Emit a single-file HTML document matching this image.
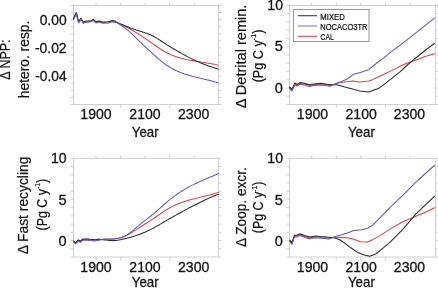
<!DOCTYPE html>
<html><head><meta charset="utf-8"><style>
html,body{margin:0;padding:0;background:#fff;overflow:hidden;}
svg{display:block;will-change:transform;}
text{font-family:"Liberation Sans", sans-serif;fill:#111;stroke:#111;stroke-width:0.28px;}
</style></head><body>
<svg width="438" height="288" viewBox="0 0 438 288">
<rect x="73.5" y="5.5" width="145.0" height="99.0" fill="none" stroke="#d0d0d0" stroke-width="1"/>
<line x1="70.5" y1="5.50" x2="73.5" y2="5.50" stroke="#d0d0d0" stroke-width="1"/>
<line x1="218.5" y1="5.50" x2="221.5" y2="5.50" stroke="#d0d0d0" stroke-width="1"/>
<line x1="70.5" y1="12.57" x2="73.5" y2="12.57" stroke="#d0d0d0" stroke-width="1"/>
<line x1="218.5" y1="12.57" x2="221.5" y2="12.57" stroke="#d0d0d0" stroke-width="1"/>
<line x1="70.5" y1="19.64" x2="73.5" y2="19.64" stroke="#d0d0d0" stroke-width="1"/>
<line x1="218.5" y1="19.64" x2="221.5" y2="19.64" stroke="#d0d0d0" stroke-width="1"/>
<line x1="70.5" y1="26.71" x2="73.5" y2="26.71" stroke="#d0d0d0" stroke-width="1"/>
<line x1="218.5" y1="26.71" x2="221.5" y2="26.71" stroke="#d0d0d0" stroke-width="1"/>
<line x1="70.5" y1="33.79" x2="73.5" y2="33.79" stroke="#d0d0d0" stroke-width="1"/>
<line x1="218.5" y1="33.79" x2="221.5" y2="33.79" stroke="#d0d0d0" stroke-width="1"/>
<line x1="70.5" y1="40.86" x2="73.5" y2="40.86" stroke="#d0d0d0" stroke-width="1"/>
<line x1="218.5" y1="40.86" x2="221.5" y2="40.86" stroke="#d0d0d0" stroke-width="1"/>
<line x1="70.5" y1="47.93" x2="73.5" y2="47.93" stroke="#d0d0d0" stroke-width="1"/>
<line x1="218.5" y1="47.93" x2="221.5" y2="47.93" stroke="#d0d0d0" stroke-width="1"/>
<line x1="70.5" y1="55.00" x2="73.5" y2="55.00" stroke="#d0d0d0" stroke-width="1"/>
<line x1="218.5" y1="55.00" x2="221.5" y2="55.00" stroke="#d0d0d0" stroke-width="1"/>
<line x1="70.5" y1="62.07" x2="73.5" y2="62.07" stroke="#d0d0d0" stroke-width="1"/>
<line x1="218.5" y1="62.07" x2="221.5" y2="62.07" stroke="#d0d0d0" stroke-width="1"/>
<line x1="70.5" y1="69.14" x2="73.5" y2="69.14" stroke="#d0d0d0" stroke-width="1"/>
<line x1="218.5" y1="69.14" x2="221.5" y2="69.14" stroke="#d0d0d0" stroke-width="1"/>
<line x1="70.5" y1="76.21" x2="73.5" y2="76.21" stroke="#d0d0d0" stroke-width="1"/>
<line x1="218.5" y1="76.21" x2="221.5" y2="76.21" stroke="#d0d0d0" stroke-width="1"/>
<line x1="70.5" y1="83.29" x2="73.5" y2="83.29" stroke="#d0d0d0" stroke-width="1"/>
<line x1="218.5" y1="83.29" x2="221.5" y2="83.29" stroke="#d0d0d0" stroke-width="1"/>
<line x1="70.5" y1="90.36" x2="73.5" y2="90.36" stroke="#d0d0d0" stroke-width="1"/>
<line x1="218.5" y1="90.36" x2="221.5" y2="90.36" stroke="#d0d0d0" stroke-width="1"/>
<line x1="70.5" y1="97.43" x2="73.5" y2="97.43" stroke="#d0d0d0" stroke-width="1"/>
<line x1="218.5" y1="97.43" x2="221.5" y2="97.43" stroke="#d0d0d0" stroke-width="1"/>
<line x1="70.5" y1="104.50" x2="73.5" y2="104.50" stroke="#d0d0d0" stroke-width="1"/>
<line x1="218.5" y1="104.50" x2="221.5" y2="104.50" stroke="#d0d0d0" stroke-width="1"/>
<line x1="96.00" y1="104.5" x2="96.00" y2="107.5" stroke="#d0d0d0" stroke-width="1"/>
<line x1="96.00" y1="2.5" x2="96.00" y2="5.5" stroke="#d0d0d0" stroke-width="1"/>
<line x1="120.55" y1="104.5" x2="120.55" y2="107.5" stroke="#d0d0d0" stroke-width="1"/>
<line x1="120.55" y1="2.5" x2="120.55" y2="5.5" stroke="#d0d0d0" stroke-width="1"/>
<line x1="145.10" y1="104.5" x2="145.10" y2="107.5" stroke="#d0d0d0" stroke-width="1"/>
<line x1="145.10" y1="2.5" x2="145.10" y2="5.5" stroke="#d0d0d0" stroke-width="1"/>
<line x1="169.65" y1="104.5" x2="169.65" y2="107.5" stroke="#d0d0d0" stroke-width="1"/>
<line x1="169.65" y1="2.5" x2="169.65" y2="5.5" stroke="#d0d0d0" stroke-width="1"/>
<line x1="194.20" y1="104.5" x2="194.20" y2="107.5" stroke="#d0d0d0" stroke-width="1"/>
<line x1="194.20" y1="2.5" x2="194.20" y2="5.5" stroke="#d0d0d0" stroke-width="1"/>
<rect x="289.5" y="5.5" width="146.0" height="99.0" fill="none" stroke="#d0d0d0" stroke-width="1"/>
<line x1="286.5" y1="5.50" x2="289.5" y2="5.50" stroke="#d0d0d0" stroke-width="1"/>
<line x1="435.5" y1="5.50" x2="438.5" y2="5.50" stroke="#d0d0d0" stroke-width="1"/>
<line x1="286.5" y1="13.75" x2="289.5" y2="13.75" stroke="#d0d0d0" stroke-width="1"/>
<line x1="435.5" y1="13.75" x2="438.5" y2="13.75" stroke="#d0d0d0" stroke-width="1"/>
<line x1="286.5" y1="22.00" x2="289.5" y2="22.00" stroke="#d0d0d0" stroke-width="1"/>
<line x1="435.5" y1="22.00" x2="438.5" y2="22.00" stroke="#d0d0d0" stroke-width="1"/>
<line x1="286.5" y1="30.25" x2="289.5" y2="30.25" stroke="#d0d0d0" stroke-width="1"/>
<line x1="435.5" y1="30.25" x2="438.5" y2="30.25" stroke="#d0d0d0" stroke-width="1"/>
<line x1="286.5" y1="38.50" x2="289.5" y2="38.50" stroke="#d0d0d0" stroke-width="1"/>
<line x1="435.5" y1="38.50" x2="438.5" y2="38.50" stroke="#d0d0d0" stroke-width="1"/>
<line x1="286.5" y1="46.75" x2="289.5" y2="46.75" stroke="#d0d0d0" stroke-width="1"/>
<line x1="435.5" y1="46.75" x2="438.5" y2="46.75" stroke="#d0d0d0" stroke-width="1"/>
<line x1="286.5" y1="55.00" x2="289.5" y2="55.00" stroke="#d0d0d0" stroke-width="1"/>
<line x1="435.5" y1="55.00" x2="438.5" y2="55.00" stroke="#d0d0d0" stroke-width="1"/>
<line x1="286.5" y1="63.25" x2="289.5" y2="63.25" stroke="#d0d0d0" stroke-width="1"/>
<line x1="435.5" y1="63.25" x2="438.5" y2="63.25" stroke="#d0d0d0" stroke-width="1"/>
<line x1="286.5" y1="71.50" x2="289.5" y2="71.50" stroke="#d0d0d0" stroke-width="1"/>
<line x1="435.5" y1="71.50" x2="438.5" y2="71.50" stroke="#d0d0d0" stroke-width="1"/>
<line x1="286.5" y1="79.75" x2="289.5" y2="79.75" stroke="#d0d0d0" stroke-width="1"/>
<line x1="435.5" y1="79.75" x2="438.5" y2="79.75" stroke="#d0d0d0" stroke-width="1"/>
<line x1="286.5" y1="88.00" x2="289.5" y2="88.00" stroke="#d0d0d0" stroke-width="1"/>
<line x1="435.5" y1="88.00" x2="438.5" y2="88.00" stroke="#d0d0d0" stroke-width="1"/>
<line x1="286.5" y1="96.25" x2="289.5" y2="96.25" stroke="#d0d0d0" stroke-width="1"/>
<line x1="435.5" y1="96.25" x2="438.5" y2="96.25" stroke="#d0d0d0" stroke-width="1"/>
<line x1="286.5" y1="104.50" x2="289.5" y2="104.50" stroke="#d0d0d0" stroke-width="1"/>
<line x1="435.5" y1="104.50" x2="438.5" y2="104.50" stroke="#d0d0d0" stroke-width="1"/>
<line x1="311.70" y1="104.5" x2="311.70" y2="107.5" stroke="#d0d0d0" stroke-width="1"/>
<line x1="311.70" y1="2.5" x2="311.70" y2="5.5" stroke="#d0d0d0" stroke-width="1"/>
<line x1="336.25" y1="104.5" x2="336.25" y2="107.5" stroke="#d0d0d0" stroke-width="1"/>
<line x1="336.25" y1="2.5" x2="336.25" y2="5.5" stroke="#d0d0d0" stroke-width="1"/>
<line x1="360.80" y1="104.5" x2="360.80" y2="107.5" stroke="#d0d0d0" stroke-width="1"/>
<line x1="360.80" y1="2.5" x2="360.80" y2="5.5" stroke="#d0d0d0" stroke-width="1"/>
<line x1="385.35" y1="104.5" x2="385.35" y2="107.5" stroke="#d0d0d0" stroke-width="1"/>
<line x1="385.35" y1="2.5" x2="385.35" y2="5.5" stroke="#d0d0d0" stroke-width="1"/>
<line x1="409.90" y1="104.5" x2="409.90" y2="107.5" stroke="#d0d0d0" stroke-width="1"/>
<line x1="409.90" y1="2.5" x2="409.90" y2="5.5" stroke="#d0d0d0" stroke-width="1"/>
<rect x="73.5" y="158.3" width="145.0" height="98.69999999999999" fill="none" stroke="#d0d0d0" stroke-width="1"/>
<line x1="70.5" y1="158.30" x2="73.5" y2="158.30" stroke="#d0d0d0" stroke-width="1"/>
<line x1="218.5" y1="158.30" x2="221.5" y2="158.30" stroke="#d0d0d0" stroke-width="1"/>
<line x1="70.5" y1="166.53" x2="73.5" y2="166.53" stroke="#d0d0d0" stroke-width="1"/>
<line x1="218.5" y1="166.53" x2="221.5" y2="166.53" stroke="#d0d0d0" stroke-width="1"/>
<line x1="70.5" y1="174.75" x2="73.5" y2="174.75" stroke="#d0d0d0" stroke-width="1"/>
<line x1="218.5" y1="174.75" x2="221.5" y2="174.75" stroke="#d0d0d0" stroke-width="1"/>
<line x1="70.5" y1="182.98" x2="73.5" y2="182.98" stroke="#d0d0d0" stroke-width="1"/>
<line x1="218.5" y1="182.98" x2="221.5" y2="182.98" stroke="#d0d0d0" stroke-width="1"/>
<line x1="70.5" y1="191.20" x2="73.5" y2="191.20" stroke="#d0d0d0" stroke-width="1"/>
<line x1="218.5" y1="191.20" x2="221.5" y2="191.20" stroke="#d0d0d0" stroke-width="1"/>
<line x1="70.5" y1="199.43" x2="73.5" y2="199.43" stroke="#d0d0d0" stroke-width="1"/>
<line x1="218.5" y1="199.43" x2="221.5" y2="199.43" stroke="#d0d0d0" stroke-width="1"/>
<line x1="70.5" y1="207.65" x2="73.5" y2="207.65" stroke="#d0d0d0" stroke-width="1"/>
<line x1="218.5" y1="207.65" x2="221.5" y2="207.65" stroke="#d0d0d0" stroke-width="1"/>
<line x1="70.5" y1="215.88" x2="73.5" y2="215.88" stroke="#d0d0d0" stroke-width="1"/>
<line x1="218.5" y1="215.88" x2="221.5" y2="215.88" stroke="#d0d0d0" stroke-width="1"/>
<line x1="70.5" y1="224.10" x2="73.5" y2="224.10" stroke="#d0d0d0" stroke-width="1"/>
<line x1="218.5" y1="224.10" x2="221.5" y2="224.10" stroke="#d0d0d0" stroke-width="1"/>
<line x1="70.5" y1="232.32" x2="73.5" y2="232.32" stroke="#d0d0d0" stroke-width="1"/>
<line x1="218.5" y1="232.32" x2="221.5" y2="232.32" stroke="#d0d0d0" stroke-width="1"/>
<line x1="70.5" y1="240.55" x2="73.5" y2="240.55" stroke="#d0d0d0" stroke-width="1"/>
<line x1="218.5" y1="240.55" x2="221.5" y2="240.55" stroke="#d0d0d0" stroke-width="1"/>
<line x1="70.5" y1="248.78" x2="73.5" y2="248.78" stroke="#d0d0d0" stroke-width="1"/>
<line x1="218.5" y1="248.78" x2="221.5" y2="248.78" stroke="#d0d0d0" stroke-width="1"/>
<line x1="70.5" y1="257.00" x2="73.5" y2="257.00" stroke="#d0d0d0" stroke-width="1"/>
<line x1="218.5" y1="257.00" x2="221.5" y2="257.00" stroke="#d0d0d0" stroke-width="1"/>
<line x1="96.00" y1="257.0" x2="96.00" y2="260.0" stroke="#d0d0d0" stroke-width="1"/>
<line x1="96.00" y1="155.3" x2="96.00" y2="158.3" stroke="#d0d0d0" stroke-width="1"/>
<line x1="120.55" y1="257.0" x2="120.55" y2="260.0" stroke="#d0d0d0" stroke-width="1"/>
<line x1="120.55" y1="155.3" x2="120.55" y2="158.3" stroke="#d0d0d0" stroke-width="1"/>
<line x1="145.10" y1="257.0" x2="145.10" y2="260.0" stroke="#d0d0d0" stroke-width="1"/>
<line x1="145.10" y1="155.3" x2="145.10" y2="158.3" stroke="#d0d0d0" stroke-width="1"/>
<line x1="169.65" y1="257.0" x2="169.65" y2="260.0" stroke="#d0d0d0" stroke-width="1"/>
<line x1="169.65" y1="155.3" x2="169.65" y2="158.3" stroke="#d0d0d0" stroke-width="1"/>
<line x1="194.20" y1="257.0" x2="194.20" y2="260.0" stroke="#d0d0d0" stroke-width="1"/>
<line x1="194.20" y1="155.3" x2="194.20" y2="158.3" stroke="#d0d0d0" stroke-width="1"/>
<rect x="289.5" y="158.3" width="146.0" height="98.69999999999999" fill="none" stroke="#d0d0d0" stroke-width="1"/>
<line x1="286.5" y1="158.30" x2="289.5" y2="158.30" stroke="#d0d0d0" stroke-width="1"/>
<line x1="435.5" y1="158.30" x2="438.5" y2="158.30" stroke="#d0d0d0" stroke-width="1"/>
<line x1="286.5" y1="166.53" x2="289.5" y2="166.53" stroke="#d0d0d0" stroke-width="1"/>
<line x1="435.5" y1="166.53" x2="438.5" y2="166.53" stroke="#d0d0d0" stroke-width="1"/>
<line x1="286.5" y1="174.75" x2="289.5" y2="174.75" stroke="#d0d0d0" stroke-width="1"/>
<line x1="435.5" y1="174.75" x2="438.5" y2="174.75" stroke="#d0d0d0" stroke-width="1"/>
<line x1="286.5" y1="182.98" x2="289.5" y2="182.98" stroke="#d0d0d0" stroke-width="1"/>
<line x1="435.5" y1="182.98" x2="438.5" y2="182.98" stroke="#d0d0d0" stroke-width="1"/>
<line x1="286.5" y1="191.20" x2="289.5" y2="191.20" stroke="#d0d0d0" stroke-width="1"/>
<line x1="435.5" y1="191.20" x2="438.5" y2="191.20" stroke="#d0d0d0" stroke-width="1"/>
<line x1="286.5" y1="199.43" x2="289.5" y2="199.43" stroke="#d0d0d0" stroke-width="1"/>
<line x1="435.5" y1="199.43" x2="438.5" y2="199.43" stroke="#d0d0d0" stroke-width="1"/>
<line x1="286.5" y1="207.65" x2="289.5" y2="207.65" stroke="#d0d0d0" stroke-width="1"/>
<line x1="435.5" y1="207.65" x2="438.5" y2="207.65" stroke="#d0d0d0" stroke-width="1"/>
<line x1="286.5" y1="215.88" x2="289.5" y2="215.88" stroke="#d0d0d0" stroke-width="1"/>
<line x1="435.5" y1="215.88" x2="438.5" y2="215.88" stroke="#d0d0d0" stroke-width="1"/>
<line x1="286.5" y1="224.10" x2="289.5" y2="224.10" stroke="#d0d0d0" stroke-width="1"/>
<line x1="435.5" y1="224.10" x2="438.5" y2="224.10" stroke="#d0d0d0" stroke-width="1"/>
<line x1="286.5" y1="232.32" x2="289.5" y2="232.32" stroke="#d0d0d0" stroke-width="1"/>
<line x1="435.5" y1="232.32" x2="438.5" y2="232.32" stroke="#d0d0d0" stroke-width="1"/>
<line x1="286.5" y1="240.55" x2="289.5" y2="240.55" stroke="#d0d0d0" stroke-width="1"/>
<line x1="435.5" y1="240.55" x2="438.5" y2="240.55" stroke="#d0d0d0" stroke-width="1"/>
<line x1="286.5" y1="248.78" x2="289.5" y2="248.78" stroke="#d0d0d0" stroke-width="1"/>
<line x1="435.5" y1="248.78" x2="438.5" y2="248.78" stroke="#d0d0d0" stroke-width="1"/>
<line x1="286.5" y1="257.00" x2="289.5" y2="257.00" stroke="#d0d0d0" stroke-width="1"/>
<line x1="435.5" y1="257.00" x2="438.5" y2="257.00" stroke="#d0d0d0" stroke-width="1"/>
<line x1="311.70" y1="257.0" x2="311.70" y2="260.0" stroke="#d0d0d0" stroke-width="1"/>
<line x1="311.70" y1="155.3" x2="311.70" y2="158.3" stroke="#d0d0d0" stroke-width="1"/>
<line x1="336.25" y1="257.0" x2="336.25" y2="260.0" stroke="#d0d0d0" stroke-width="1"/>
<line x1="336.25" y1="155.3" x2="336.25" y2="158.3" stroke="#d0d0d0" stroke-width="1"/>
<line x1="360.80" y1="257.0" x2="360.80" y2="260.0" stroke="#d0d0d0" stroke-width="1"/>
<line x1="360.80" y1="155.3" x2="360.80" y2="158.3" stroke="#d0d0d0" stroke-width="1"/>
<line x1="385.35" y1="257.0" x2="385.35" y2="260.0" stroke="#d0d0d0" stroke-width="1"/>
<line x1="385.35" y1="155.3" x2="385.35" y2="158.3" stroke="#d0d0d0" stroke-width="1"/>
<line x1="409.90" y1="257.0" x2="409.90" y2="260.0" stroke="#d0d0d0" stroke-width="1"/>
<line x1="409.90" y1="155.3" x2="409.90" y2="158.3" stroke="#d0d0d0" stroke-width="1"/>
<polyline points="73.4,19.2 76.3,13.1 78.6,22.3 80.9,18.8 83.4,22.8 85.7,21.7 90.3,21.5 93.1,20.0 96.0,22.3 98.8,21.5 102.8,22.6 108.5,22.3 112.5,21.1 115.4,21.9 116.4,22.3 117.4,22.7 118.4,23.2 119.4,23.6 120.4,24.1 121.4,24.6 122.4,25.0 123.4,25.5 124.4,26.0 125.4,26.5 126.4,27.0 127.4,27.5 128.4,28.0 129.4,28.5 130.4,29.1 131.4,29.7 132.4,30.3 133.4,30.9 134.4,31.5 135.4,32.1 136.4,32.8 137.4,33.4 138.4,34.0 139.4,34.7 140.4,35.3 141.4,36.0 142.4,36.6 143.4,37.3 144.4,37.9 145.4,38.6 146.4,39.3 147.4,39.9 148.4,40.6 149.4,41.3 150.4,42.0 151.4,42.7 152.4,43.3 153.4,44.1 154.4,44.8 155.4,45.5 156.4,46.2 157.4,46.9 158.4,47.6 159.4,48.3 160.4,49.0 161.4,49.6 162.4,50.2 163.4,50.8 164.4,51.4 165.4,52.0 166.4,52.5 167.4,53.0 168.4,53.5 169.4,54.0 170.4,54.4 171.4,54.9 172.4,55.3 173.4,55.7 174.4,56.0 175.4,56.4 176.4,56.7 177.4,57.1 178.4,57.4 179.4,57.7 180.4,58.0 181.4,58.3 182.4,58.5 183.4,58.8 184.4,59.0 185.4,59.2 186.4,59.5 187.4,59.7 188.4,59.9 189.4,60.1 190.4,60.3 191.4,60.5 192.4,60.6 193.4,60.8 194.4,61.0 195.4,61.1 196.4,61.3 197.4,61.5 198.4,61.6 199.4,61.8 200.4,61.9 201.4,62.1 202.4,62.2 203.4,62.4 204.4,62.5 205.4,62.7 206.4,62.9 207.4,63.0 208.4,63.2 209.4,63.4 210.4,63.6 211.4,63.7 212.4,63.9 213.4,64.1 214.4,64.3 215.4,64.6 216.4,64.8 217.4,65.0 218.0,65.2" fill="none" stroke="#cc4450" stroke-width="1.05" stroke-linejoin="round" stroke-linecap="round"/>
<polyline points="73.4,18.6 76.3,12.5 78.6,21.7 80.9,18.2 83.4,22.2 85.7,21.1 90.3,20.9 93.1,19.4 96.0,21.7 98.8,20.9 102.8,22.0 108.5,21.7 112.5,20.5 115.4,21.3 116.4,22.3 117.4,22.7 118.4,23.1 119.4,23.5 120.4,23.9 121.4,24.3 122.4,24.7 123.4,25.1 124.4,25.5 125.4,25.9 126.4,26.3 127.4,26.7 128.4,27.1 129.4,27.5 130.4,27.9 131.4,28.2 132.4,28.6 133.4,28.9 134.4,29.3 135.4,29.6 136.4,30.0 137.4,30.3 138.4,30.6 139.4,31.0 140.4,31.3 141.4,31.6 142.4,31.9 143.4,32.2 144.4,32.5 145.4,32.9 146.4,33.2 147.4,33.6 148.4,34.0 149.4,34.4 150.4,34.8 151.4,35.2 152.4,35.7 153.4,36.2 154.4,36.8 155.4,37.3 156.4,37.9 157.4,38.6 158.4,39.2 159.4,39.9 160.4,40.5 161.4,41.2 162.4,41.9 163.4,42.5 164.4,43.1 165.4,43.8 166.4,44.4 167.4,45.1 168.4,45.7 169.4,46.3 170.4,46.9 171.4,47.5 172.4,48.1 173.4,48.7 174.4,49.3 175.4,49.9 176.4,50.5 177.4,51.1 178.4,51.7 179.4,52.2 180.4,52.8 181.4,53.4 182.4,53.9 183.4,54.5 184.4,55.0 185.4,55.5 186.4,56.1 187.4,56.6 188.4,57.1 189.4,57.6 190.4,58.1 191.4,58.6 192.4,59.1 193.4,59.6 194.4,60.0 195.4,60.5 196.4,61.0 197.4,61.4 198.4,61.9 199.4,62.3 200.4,62.7 201.4,63.2 202.4,63.6 203.4,64.0 204.4,64.4 205.4,64.8 206.4,65.2 207.4,65.5 208.4,65.9 209.4,66.3 210.4,66.6 211.4,66.9 212.4,67.3 213.4,67.6 214.4,67.9 215.4,68.2 216.4,68.5 217.4,68.8 218.0,69.0" fill="none" stroke="#2a2a2a" stroke-width="1.05" stroke-linejoin="round" stroke-linecap="round"/>
<polyline points="73.4,19.8 76.3,13.7 78.6,22.9 80.9,19.4 83.4,23.4 85.7,22.3 90.3,22.1 93.1,20.6 96.0,22.9 98.8,22.1 102.8,23.2 108.5,22.9 112.5,21.7 115.4,22.5 116.4,22.4 117.4,22.9 118.4,23.5 119.4,24.2 120.4,24.8 121.4,25.5 122.4,26.2 123.4,26.9 124.4,27.6 125.4,28.3 126.4,29.1 127.4,29.9 128.4,30.7 129.4,31.6 130.4,32.4 131.4,33.4 132.4,34.3 133.4,35.3 134.4,36.3 135.4,37.3 136.4,38.3 137.4,39.3 138.4,40.3 139.4,41.3 140.4,42.3 141.4,43.2 142.4,44.2 143.4,45.2 144.4,46.1 145.4,47.0 146.4,47.9 147.4,48.9 148.4,49.8 149.4,50.7 150.4,51.6 151.4,52.5 152.4,53.4 153.4,54.3 154.4,55.2 155.4,56.1 156.4,57.0 157.4,57.9 158.4,58.8 159.4,59.7 160.4,60.5 161.4,61.3 162.4,62.1 163.4,62.9 164.4,63.6 165.4,64.4 166.4,65.0 167.4,65.7 168.4,66.3 169.4,67.0 170.4,67.6 171.4,68.1 172.4,68.7 173.4,69.2 174.4,69.7 175.4,70.2 176.4,70.7 177.4,71.1 178.4,71.6 179.4,72.0 180.4,72.4 181.4,72.8 182.4,73.2 183.4,73.5 184.4,73.9 185.4,74.2 186.4,74.5 187.4,74.8 188.4,75.1 189.4,75.4 190.4,75.7 191.4,76.0 192.4,76.3 193.4,76.5 194.4,76.8 195.4,77.0 196.4,77.3 197.4,77.5 198.4,77.8 199.4,78.0 200.4,78.2 201.4,78.5 202.4,78.7 203.4,78.9 204.4,79.2 205.4,79.4 206.4,79.6 207.4,79.9 208.4,80.1 209.4,80.4 210.4,80.6 211.4,80.9 212.4,81.1 213.4,81.4 214.4,81.7 215.4,82.0 216.4,82.3 217.4,82.6 218.0,82.8" fill="none" stroke="#5c5cb2" stroke-width="1.05" stroke-linejoin="round" stroke-linecap="round"/>
<polyline points="289.5,87.8 292.0,90.1 294.9,83.7 297.1,85.2 299.9,83.4 304.4,84.1 309.9,85.6 313.6,84.7 320.9,84.1 325.4,84.7 330.0,85.5 336.9,83.3 343.9,82.1 352.5,80.9 359.5,82.1 369.0,80.9 373.0,79.4 378.0,77.0 384.2,74.2 390.5,71.1 396.8,68.1 400.0,66.3 406.2,63.6 412.5,61.3 418.8,58.9 425.0,56.4 431.2,54.7 434.5,53.8" fill="none" stroke="#cc4450" stroke-width="1.05" stroke-linejoin="round" stroke-linecap="round"/>
<polyline points="289.5,87.0 292.0,89.2 294.9,82.9 297.1,84.4 299.9,82.6 304.4,83.2 309.9,84.8 313.6,83.9 320.9,83.2 325.4,83.9 330.0,84.7 336.9,84.7 343.9,86.8 352.5,89.0 359.5,91.1 369.0,92.0 375.1,89.5 378.0,88.8 384.2,84.3 390.5,79.4 396.8,74.4 400.0,71.9 406.2,66.0 412.5,60.6 418.8,55.5 425.0,50.5 431.2,45.8 434.5,43.5" fill="none" stroke="#2a2a2a" stroke-width="1.05" stroke-linejoin="round" stroke-linecap="round"/>
<polyline points="289.5,88.6 292.0,90.9 294.9,84.5 297.1,86.0 299.9,84.2 304.4,84.9 309.9,86.4 313.6,85.5 320.9,84.9 325.4,85.5 330.0,86.3 336.9,83.3 343.9,80.5 348.0,78.5 353.4,74.3 360.3,72.5 369.0,69.4 376.8,63.0 383.8,57.8 390.0,52.6 405.4,41.2 422.7,27.4 434.5,18.2" fill="none" stroke="#5c5cb2" stroke-width="1.05" stroke-linejoin="round" stroke-linecap="round"/>
<polyline points="73.5,241.4 75.7,243.3 78.4,240.5 80.2,241.8 83.0,239.6 88.4,239.6 90.0,239.9 94.6,240.3 99.4,239.6 100.4,239.5 101.4,239.5 102.4,239.4 103.4,239.4 104.4,239.4 105.4,239.3 106.4,239.3 107.4,239.3 108.4,239.3 109.4,239.2 110.4,239.2 111.4,239.1 112.4,239.1 113.4,239.0 114.4,238.9 115.4,238.8 116.4,238.6 117.4,238.5 118.4,238.3 119.4,238.0 120.4,237.8 121.4,237.5 122.4,237.2 123.4,236.8 124.4,236.5 125.4,236.0 126.4,235.6 127.4,235.1 128.4,234.6 129.4,234.0 130.4,233.4 131.4,232.8 132.4,232.2 133.4,231.6 134.4,230.9 135.4,230.3 136.4,229.6 137.4,228.9 138.4,228.3 139.4,227.6 140.4,226.9 141.4,226.3 142.4,225.7 143.4,225.0 144.4,224.4 145.4,223.8 146.4,223.2 147.4,222.5 148.4,221.9 149.4,221.3 150.4,220.6 151.4,219.9 152.4,219.3 153.4,218.6 154.4,217.9 155.4,217.2 156.4,216.5 157.4,215.8 158.4,215.1 159.4,214.4 160.4,213.7 161.4,213.0 162.4,212.3 163.4,211.7 164.4,211.0 165.4,210.4 166.4,209.8 167.4,209.2 168.4,208.6 169.4,208.0 170.4,207.5 171.4,206.9 172.4,206.4 173.4,205.9 174.4,205.5 175.4,205.0 176.4,204.6 177.4,204.1 178.4,203.7 179.4,203.3 180.4,202.9 181.4,202.6 182.4,202.2 183.4,201.9 184.4,201.5 185.4,201.2 186.4,200.9 187.4,200.6 188.4,200.3 189.4,200.0 190.4,199.8 191.4,199.5 192.4,199.2 193.4,199.0 194.4,198.7 195.4,198.5 196.4,198.2 197.4,198.0 198.4,197.7 199.4,197.5 200.4,197.2 201.4,197.0 202.4,196.8 203.4,196.5 204.4,196.3 205.4,196.0 206.4,195.8 207.4,195.5 208.4,195.3 209.4,195.0 210.4,194.8 211.4,194.5 212.4,194.2 213.4,193.9 214.4,193.6 215.4,193.3 216.4,193.0 217.4,192.7 218.4,192.3 218.5,192.3" fill="none" stroke="#cc4450" stroke-width="1.05" stroke-linejoin="round" stroke-linecap="round"/>
<polyline points="73.5,240.8 75.7,242.7 78.4,239.9 80.2,241.2 83.0,239.0 88.4,239.0 90.0,239.3 94.6,239.7 99.4,239.0 100.4,239.6 101.4,239.7 102.4,239.7 103.4,239.8 104.4,239.9 105.4,240.0 106.4,240.1 107.4,240.2 108.4,240.3 109.4,240.4 110.4,240.5 111.4,240.5 112.4,240.6 113.4,240.6 114.4,240.6 115.4,240.5 116.4,240.4 117.4,240.3 118.4,240.1 119.4,239.9 120.4,239.8 121.4,239.6 122.4,239.3 123.4,239.1 124.4,238.9 125.4,238.6 126.4,238.4 127.4,238.1 128.4,237.9 129.4,237.6 130.4,237.3 131.4,237.0 132.4,236.7 133.4,236.4 134.4,236.1 135.4,235.8 136.4,235.4 137.4,235.1 138.4,234.7 139.4,234.4 140.4,234.0 141.4,233.6 142.4,233.2 143.4,232.8 144.4,232.4 145.4,232.0 146.4,231.5 147.4,231.1 148.4,230.6 149.4,230.1 150.4,229.6 151.4,229.1 152.4,228.6 153.4,228.0 154.4,227.5 155.4,226.9 156.4,226.4 157.4,225.8 158.4,225.2 159.4,224.6 160.4,224.1 161.4,223.5 162.4,222.9 163.4,222.3 164.4,221.7 165.4,221.1 166.4,220.5 167.4,219.9 168.4,219.4 169.4,218.8 170.4,218.2 171.4,217.7 172.4,217.1 173.4,216.5 174.4,216.0 175.4,215.4 176.4,214.9 177.4,214.3 178.4,213.8 179.4,213.2 180.4,212.7 181.4,212.2 182.4,211.6 183.4,211.1 184.4,210.5 185.4,210.0 186.4,209.4 187.4,208.9 188.4,208.4 189.4,207.8 190.4,207.3 191.4,206.8 192.4,206.2 193.4,205.7 194.4,205.2 195.4,204.7 196.4,204.2 197.4,203.7 198.4,203.2 199.4,202.7 200.4,202.2 201.4,201.7 202.4,201.2 203.4,200.7 204.4,200.2 205.4,199.8 206.4,199.3 207.4,198.8 208.4,198.4 209.4,197.9 210.4,197.5 211.4,197.1 212.4,196.7 213.4,196.2 214.4,195.8 215.4,195.4 216.4,195.0 217.4,194.7 218.4,194.3 218.5,194.2" fill="none" stroke="#2a2a2a" stroke-width="1.05" stroke-linejoin="round" stroke-linecap="round"/>
<polyline points="73.5,242.0 75.7,243.9 78.4,241.1 80.2,242.4 83.0,240.2 88.4,240.2 90.0,240.5 94.6,240.9 99.4,240.2 100.4,239.5 101.4,239.4 102.4,239.3 103.4,239.2 104.4,239.1 105.4,239.0 106.4,239.0 107.4,239.0 108.4,239.0 109.4,239.0 110.4,239.0 111.4,239.0 112.4,239.0 113.4,239.0 114.4,238.9 115.4,238.8 116.4,238.7 117.4,238.6 118.4,238.4 119.4,238.1 120.4,237.9 121.4,237.6 122.4,237.2 123.4,236.8 124.4,236.4 125.4,235.8 126.4,235.3 127.4,234.7 128.4,234.0 129.4,233.3 130.4,232.5 131.4,231.7 132.4,230.9 133.4,230.1 134.4,229.2 135.4,228.4 136.4,227.5 137.4,226.6 138.4,225.8 139.4,224.9 140.4,224.1 141.4,223.2 142.4,222.4 143.4,221.6 144.4,220.9 145.4,220.1 146.4,219.3 147.4,218.6 148.4,217.8 149.4,217.0 150.4,216.3 151.4,215.5 152.4,214.7 153.4,213.9 154.4,213.1 155.4,212.2 156.4,211.3 157.4,210.4 158.4,209.6 159.4,208.7 160.4,207.8 161.4,206.9 162.4,206.0 163.4,205.1 164.4,204.2 165.4,203.4 166.4,202.5 167.4,201.7 168.4,200.9 169.4,200.0 170.4,199.2 171.4,198.4 172.4,197.7 173.4,196.9 174.4,196.1 175.4,195.4 176.4,194.7 177.4,194.0 178.4,193.3 179.4,192.6 180.4,191.9 181.4,191.3 182.4,190.7 183.4,190.1 184.4,189.5 185.4,188.9 186.4,188.3 187.4,187.7 188.4,187.2 189.4,186.6 190.4,186.1 191.4,185.6 192.4,185.1 193.4,184.6 194.4,184.1 195.4,183.6 196.4,183.2 197.4,182.7 198.4,182.2 199.4,181.8 200.4,181.3 201.4,180.9 202.4,180.5 203.4,180.0 204.4,179.6 205.4,179.2 206.4,178.7 207.4,178.3 208.4,177.9 209.4,177.5 210.4,177.0 211.4,176.6 212.4,176.2 213.4,175.7 214.4,175.3 215.4,174.9 216.4,174.4 217.4,174.0 218.4,173.5 218.5,173.5" fill="none" stroke="#5c5cb2" stroke-width="1.05" stroke-linejoin="round" stroke-linecap="round"/>
<polyline points="289.8,241.0 292.0,243.4 294.4,236.1 297.1,236.1 299.9,234.6 304.4,236.4 309.9,237.9 315.4,236.8 320.9,237.4 324.5,237.7 329.1,238.2 334.9,236.9 341.1,237.4 346.7,237.8 352.2,238.8 357.8,240.8 360.6,241.8 367.5,241.9 373.0,239.4 380.0,235.6 389.6,229.4 402.8,221.8 416.0,216.2 429.2,210.5 434.5,207.8" fill="none" stroke="#cc4450" stroke-width="1.05" stroke-linejoin="round" stroke-linecap="round"/>
<polyline points="289.8,240.2 292.0,242.6 294.4,235.2 297.1,235.2 299.9,233.8 304.4,235.6 309.9,237.1 315.4,236.0 320.9,236.6 324.5,236.8 329.1,237.3 334.9,237.9 339.7,239.7 345.3,243.6 350.8,247.8 357.8,252.6 363.3,254.7 369.6,256.3 375.8,254.0 380.0,250.6 389.6,242.6 402.8,229.4 416.0,213.8 429.2,201.3 434.5,196.2" fill="none" stroke="#2a2a2a" stroke-width="1.05" stroke-linejoin="round" stroke-linecap="round"/>
<polyline points="289.8,241.8 292.0,244.2 294.4,236.9 297.1,236.9 299.9,235.4 304.4,237.2 309.9,238.8 315.4,237.7 320.9,238.2 324.5,238.5 329.1,239.0 334.9,236.7 341.1,235.0 348.0,232.8 353.6,230.4 362.0,229.7 368.2,228.0 373.0,224.9 377.2,220.7 389.6,207.9 402.8,195.4 416.0,182.2 429.2,170.0 434.5,165.5" fill="none" stroke="#5c5cb2" stroke-width="1.05" stroke-linejoin="round" stroke-linecap="round"/>
<rect x="293.5" y="9.5" width="75.5" height="32" fill="#fff" stroke="#989898" stroke-width="1"/>
<line x1="298" y1="15.7" x2="317" y2="15.7" stroke="#3a3a3a" stroke-width="1.1"/>
<line x1="298" y1="26" x2="317" y2="26" stroke="#7c7cc8" stroke-width="1.1"/>
<line x1="298" y1="36.3" x2="317" y2="36.3" stroke="#d04a55" stroke-width="1.1"/>
<text x="320.30" y="19.50" font-size="8.6" text-anchor="start" textLength="24.46" lengthAdjust="spacingAndGlyphs" style="stroke-width:0.22px">MIXED</text>
<text x="320.30" y="30.10" font-size="8.6" text-anchor="start" textLength="47.26" lengthAdjust="spacingAndGlyphs" style="stroke-width:0.22px">NOCACO3TR</text>
<text x="320.60" y="40.30" font-size="8.6" text-anchor="start" textLength="13.18" lengthAdjust="spacingAndGlyphs" style="stroke-width:0.22px">CAL</text>
<text x="66.60" y="25.25" font-size="14.5" text-anchor="end" textLength="26.95" lengthAdjust="spacingAndGlyphs">0.00</text>
<text x="66.60" y="53.10" font-size="14.5" text-anchor="end" textLength="31.64" lengthAdjust="spacingAndGlyphs">-0.02</text>
<text x="66.60" y="81.20" font-size="14.5" text-anchor="end" textLength="31.35" lengthAdjust="spacingAndGlyphs">-0.04</text>
<text x="283.00" y="10.00" font-size="14.5" text-anchor="end" textLength="15.68" lengthAdjust="spacingAndGlyphs">10</text>
<text x="283.00" y="51.30" font-size="14.5" text-anchor="end" textLength="8.16" lengthAdjust="spacingAndGlyphs">5</text>
<text x="283.00" y="92.70" font-size="14.5" text-anchor="end" textLength="8.11" lengthAdjust="spacingAndGlyphs">0</text>
<text x="66.60" y="163.40" font-size="14.5" text-anchor="end" textLength="15.68" lengthAdjust="spacingAndGlyphs">10</text>
<text x="66.60" y="204.60" font-size="14.5" text-anchor="end" textLength="8.16" lengthAdjust="spacingAndGlyphs">5</text>
<text x="66.60" y="245.80" font-size="14.5" text-anchor="end" textLength="8.11" lengthAdjust="spacingAndGlyphs">0</text>
<text x="283.00" y="163.40" font-size="14.5" text-anchor="end" textLength="15.68" lengthAdjust="spacingAndGlyphs">10</text>
<text x="283.00" y="204.60" font-size="14.5" text-anchor="end" textLength="8.16" lengthAdjust="spacingAndGlyphs">5</text>
<text x="283.00" y="245.80" font-size="14.5" text-anchor="end" textLength="8.11" lengthAdjust="spacingAndGlyphs">0</text>
<text x="96.00" y="119.00" font-size="14.5" text-anchor="middle" textLength="31.32" lengthAdjust="spacingAndGlyphs">1900</text>
<text x="145.00" y="119.00" font-size="14.5" text-anchor="middle" textLength="31.32" lengthAdjust="spacingAndGlyphs">2100</text>
<text x="193.70" y="119.00" font-size="14.5" text-anchor="middle" textLength="31.32" lengthAdjust="spacingAndGlyphs">2300</text>
<text x="145.20" y="136.90" font-size="14.2" text-anchor="middle" textLength="26.83" lengthAdjust="spacingAndGlyphs">Year</text>
<text x="312.50" y="119.00" font-size="14.5" text-anchor="middle" textLength="31.32" lengthAdjust="spacingAndGlyphs">1900</text>
<text x="361.20" y="119.00" font-size="14.5" text-anchor="middle" textLength="31.32" lengthAdjust="spacingAndGlyphs">2100</text>
<text x="409.50" y="119.00" font-size="14.5" text-anchor="middle" textLength="31.32" lengthAdjust="spacingAndGlyphs">2300</text>
<text x="361.40" y="136.90" font-size="14.2" text-anchor="middle" textLength="26.83" lengthAdjust="spacingAndGlyphs">Year</text>
<text x="96.00" y="272.20" font-size="14.5" text-anchor="middle" textLength="31.32" lengthAdjust="spacingAndGlyphs">1900</text>
<text x="145.00" y="272.20" font-size="14.5" text-anchor="middle" textLength="31.32" lengthAdjust="spacingAndGlyphs">2100</text>
<text x="193.70" y="272.20" font-size="14.5" text-anchor="middle" textLength="31.32" lengthAdjust="spacingAndGlyphs">2300</text>
<text x="145.20" y="287.30" font-size="14.2" text-anchor="middle" textLength="26.83" lengthAdjust="spacingAndGlyphs">Year</text>
<text x="312.50" y="272.20" font-size="14.5" text-anchor="middle" textLength="31.32" lengthAdjust="spacingAndGlyphs">1900</text>
<text x="361.20" y="272.20" font-size="14.5" text-anchor="middle" textLength="31.32" lengthAdjust="spacingAndGlyphs">2100</text>
<text x="409.50" y="272.20" font-size="14.5" text-anchor="middle" textLength="31.32" lengthAdjust="spacingAndGlyphs">2300</text>
<text x="361.40" y="287.30" font-size="14.2" text-anchor="middle" textLength="26.83" lengthAdjust="spacingAndGlyphs">Year</text>
<g transform="translate(9.60 59.60) rotate(-90) scale(0.8724 1)"><text x="0" y="0" font-size="14.3" text-anchor="middle" style="stroke-width:0.2px">Δ NPP:</text></g>
<g transform="translate(28.60 59.45) rotate(-90) scale(0.9670 1)"><text x="0" y="0" font-size="14.3" text-anchor="middle" style="stroke-width:0.2px">hetero. resp.</text></g>
<g transform="translate(245.70 56.40) rotate(-90) scale(1.0190 1)"><text x="0" y="0" font-size="14.3" text-anchor="middle" style="stroke-width:0.2px">Δ Detrital remin.</text></g>
<g transform="translate(262.80 56.00) rotate(-90) scale(0.8859 1)"><text x="0" y="0" font-size="14.3" text-anchor="middle" style="stroke-width:0.2px">(Pg C y<tspan font-size="8" dy="-6.8">-1</tspan><tspan dy="6.8">)</tspan></text></g>
<g transform="translate(28.20 205.45) rotate(-90) scale(0.9676 1)"><text x="0" y="0" font-size="14.3" text-anchor="middle" style="stroke-width:0.2px">Δ Fast recycling</text></g>
<g transform="translate(46.60 204.60) rotate(-90) scale(0.8688 1)"><text x="0" y="0" font-size="14.3" text-anchor="middle" style="stroke-width:0.2px">(Pg C y<tspan font-size="8" dy="-6.8">-1</tspan><tspan dy="6.8">)</tspan></text></g>
<g transform="translate(245.70 207.10) rotate(-90) scale(0.9566 1)"><text x="0" y="0" font-size="14.3" text-anchor="middle" style="stroke-width:0.2px">Δ Zoop. excr.</text></g>
<g transform="translate(263.30 207.35) rotate(-90) scale(0.8671 1)"><text x="0" y="0" font-size="14.3" text-anchor="middle" style="stroke-width:0.2px">(Pg C y<tspan font-size="8" dy="-6.8">-1</tspan><tspan dy="6.8">)</tspan></text></g>
</svg>
</body></html>
